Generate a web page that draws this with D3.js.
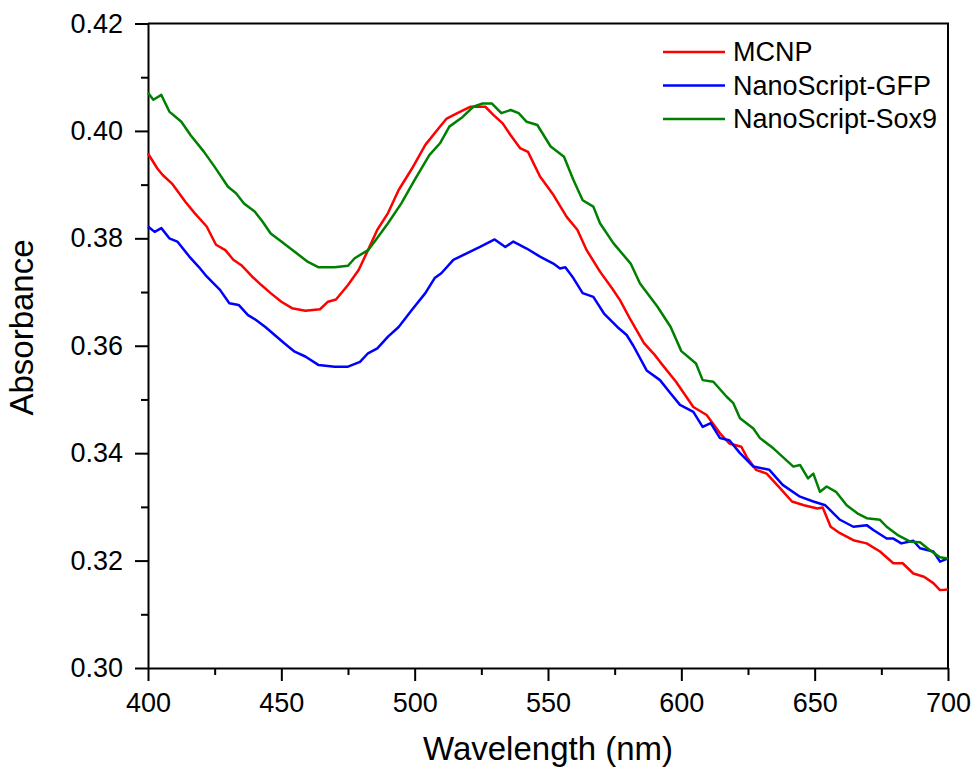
<!DOCTYPE html>
<html>
<head>
<meta charset="utf-8">
<script src="https://cdn.jsdelivr.net/npm/d3@7"></script>
<style>
  body { margin: 0; background: #fff; }
  svg { display: block; font-family: "Liberation Sans", Arial, sans-serif; }
</style>
</head>
<body>
<svg id="chart" width="975" height="767"></svg>
<script>
// series (wavelength in nm, absorbance)
const mcnpWl = [400, 403.5, 405.5, 409, 414, 417.5, 422, 425.5, 429, 432, 435, 439, 442.5, 446, 450, 454, 459, 464.5, 467.5, 470.5, 475, 479, 482.5, 486, 490, 494, 499, 504, 509, 512, 516, 521, 523, 526.5, 529.5, 533, 536, 539.5, 542.5, 547, 552, 557, 561, 564.5, 569.5, 574, 577, 581, 586, 590, 592, 598, 604.5, 609.5, 614.5, 618, 622.5, 624.5, 628, 632, 637, 641.5, 646, 651, 653, 656, 659.5, 664.5, 669.5, 674.5, 679.5, 683, 687, 691, 694.5, 697, 700];
const mcnpAbs = [0.3958, 0.3930, 0.3918, 0.3902, 0.3868, 0.3847, 0.3822, 0.3788, 0.3778, 0.3760, 0.3750, 0.3729, 0.3713, 0.3698, 0.3682, 0.3670, 0.3665, 0.3668, 0.3682, 0.3686, 0.3713, 0.3741, 0.3778, 0.3816, 0.3847, 0.3890, 0.3930, 0.3974, 0.4005, 0.4023, 0.4033, 0.4045, 0.4045, 0.4045, 0.4030, 0.4014, 0.3992, 0.3968, 0.3961, 0.3915, 0.3881, 0.3840, 0.3816, 0.3778, 0.3738, 0.3707, 0.3685, 0.3648, 0.3605, 0.3583, 0.3570, 0.3533, 0.3486, 0.3471, 0.3437, 0.3418, 0.3412, 0.3393, 0.3369, 0.3362, 0.3335, 0.3310, 0.3303, 0.3297, 0.3299, 0.3263, 0.3251, 0.3238, 0.3232, 0.3217, 0.3195, 0.3195, 0.3176, 0.3170, 0.3158, 0.3145, 0.3146];

const gfpWl = [400, 402.5, 405, 408, 411, 415.5, 419, 422, 427, 430.5, 434, 437.5, 440.5, 444, 447.5, 451, 455, 459, 464, 470, 475, 479.5, 482.5, 486, 490, 494, 499, 504, 507.5, 510, 514.5, 519.5, 524.5, 530, 534, 537, 542, 547, 552, 554.5, 556.5, 559.5, 563, 567, 571, 576, 579.5, 582, 587, 592, 596, 599.5, 604.5, 608, 611, 614.5, 618, 622, 627, 633, 638, 644.5, 649.5, 654, 659.5, 664.5, 669.5, 672, 677, 679.5, 682.5, 687, 689.5, 694.5, 697, 700];
const gfpAbs = [0.3822, 0.3812, 0.3819, 0.3800, 0.3794, 0.3766, 0.3747, 0.3729, 0.3704, 0.3679, 0.3676, 0.3657, 0.3648, 0.3635, 0.3620, 0.3605, 0.3589, 0.3580, 0.3564, 0.3561, 0.3561, 0.3570, 0.3586, 0.3595, 0.3617, 0.3635, 0.3667, 0.3698, 0.3726, 0.3735, 0.3760, 0.3772, 0.3784, 0.3798, 0.3784, 0.3794, 0.3781, 0.3766, 0.3753, 0.3744, 0.3746, 0.3726, 0.3698, 0.3691, 0.3660, 0.3635, 0.3620, 0.3600, 0.3554, 0.3536, 0.3511, 0.3490, 0.3477, 0.3449, 0.3456, 0.3428, 0.3424, 0.3400, 0.3375, 0.3369, 0.3341, 0.3319, 0.3310, 0.3303, 0.3276, 0.3263, 0.3266, 0.3257, 0.3241, 0.3241, 0.3232, 0.3237, 0.3223, 0.3217, 0.3198, 0.3204];

const sox9Wl = [400, 402, 405, 408, 412.5, 416, 421, 425, 430, 433, 436, 440, 443, 446, 450, 455, 460, 464, 470, 475, 477.5, 482.5, 485, 490, 495, 500, 505.5, 509.5, 513, 518, 522, 525.5, 529, 532.5, 536, 539, 542, 546, 551, 556, 559.5, 563, 567, 569.5, 574.5, 581, 584.5, 591, 596, 600, 605.5, 608, 612, 617, 619.5, 622, 627, 629.5, 634.5, 638, 642, 644.5, 647.5, 649.5, 652, 654.5, 658, 662, 666, 669.5, 674.5, 677, 681, 686, 689.5, 693, 697, 700];
const sox9Abs = [0.4071, 0.4058, 0.4067, 0.4036, 0.4017, 0.3992, 0.3961, 0.3933, 0.3896, 0.3884, 0.3865, 0.3850, 0.3831, 0.3809, 0.3794, 0.3775, 0.3756, 0.3746, 0.3746, 0.3749, 0.3763, 0.3778, 0.3794, 0.3828, 0.3865, 0.3909, 0.3955, 0.3977, 0.4008, 0.4026, 0.4045, 0.4051, 0.4051, 0.4033, 0.4039, 0.4033, 0.4017, 0.4011, 0.3971, 0.3952, 0.3909, 0.3871, 0.3859, 0.3828, 0.3791, 0.3753, 0.3716, 0.3673, 0.3635, 0.3590, 0.3567, 0.3536, 0.3533, 0.3505, 0.3493, 0.3465, 0.3446, 0.3428, 0.3409, 0.3393, 0.3375, 0.3378, 0.3353, 0.3362, 0.3328, 0.3338, 0.3328, 0.3303, 0.3288, 0.3279, 0.3276, 0.3263, 0.3248, 0.3235, 0.3234, 0.3220, 0.3206, 0.3204];

const seriesNames = ['MCNP', 'NanoScript-GFP', 'NanoScript-Sox9'];
const seriesColors = ['#ff0000', '#0000ff', '#008000'];
const xTicks = [400, 450, 500, 550, 600, 650, 700];
const yTicks = [0.30, 0.32, 0.34, 0.36, 0.38, 0.40, 0.42];

const series = [
  { name: seriesNames[0], color: seriesColors[0], wl: mcnpWl, abs: mcnpAbs },
  { name: seriesNames[1], color: seriesColors[1], wl: gfpWl, abs: gfpAbs },
  { name: seriesNames[2], color: seriesColors[2], wl: sox9Wl, abs: sox9Abs }
];

const margin = { top: 23.5, left: 148, right: 27, bottom: 99 };
const width = 975 - margin.left - margin.right;
const height = 767 - margin.top - margin.bottom;

const svg = d3.select('#chart');
const g = svg.append('g').attr('transform', `translate(${margin.left},${margin.top})`);

const x = d3.scaleLinear().domain([400, 700]).range([0, width]);
const y = d3.scaleLinear().domain([0.30, 0.42]).range([height, 0]);

// minor ticks first, major axes over them
g.append('g')
  .attr('transform', `translate(0,${height})`)
  .call(d3.axisBottom(x).tickValues(d3.range(425, 700, 50)).tickSize(7).tickSizeOuter(0).tickFormat(''))
  .call(a => a.select('.domain').remove());
g.append('g')
  .call(d3.axisLeft(y).tickValues(d3.range(0.31, 0.42, 0.02)).tickSize(7).tickSizeOuter(0).tickFormat(''))
  .call(a => a.select('.domain').remove());

const xAxis = g.append('g')
  .attr('transform', `translate(0,${height})`)
  .call(d3.axisBottom(x).tickValues(xTicks).tickSize(13).tickSizeOuter(0).tickPadding(12).tickFormat(d3.format('d')));
const yAxis = g.append('g')
  .call(d3.axisLeft(y).tickValues(yTicks).tickSize(13).tickSizeOuter(0).tickPadding(12).tickFormat(d3.format('.2f')));

g.selectAll('.tick line').attr('stroke', '#000').attr('stroke-width', 2);
[xAxis, yAxis].forEach(a => {
  a.select('.domain').attr('stroke', '#000').attr('stroke-width', 2);
  a.selectAll('text').attr('font-size', 27).attr('fill', '#000')
    .style('font-family', '"Liberation Sans", Arial, sans-serif');
});

// top and right frame
g.append('path')
  .attr('d', `M0,0H${width}V${height}`)
  .attr('fill', 'none')
  .attr('stroke', '#000')
  .attr('stroke-width', 2);

const line = d3.line()
  .x(d => x(d[0]))
  .y(d => y(d[1]));

g.selectAll('.series')
  .data(series)
  .join('path')
  .attr('class', 'series')
  .attr('d', s => line(d3.zip(s.wl, s.abs)))
  .attr('fill', 'none')
  .attr('stroke', s => s.color)
  .attr('stroke-width', 2.5)
  .attr('stroke-linejoin', 'round');

// legend
const legend = svg.append('g').attr('transform', 'translate(663,52)');
const items = legend.selectAll('g')
  .data(series)
  .join('g')
  .attr('transform', (d, i) => `translate(0,${i * 33.5})`);
items.append('line')
  .attr('x1', 0).attr('x2', 62)
  .attr('stroke', d => d.color)
  .attr('stroke-width', 2.5);
items.append('text')
  .attr('x', 70)
  .attr('dy', '0.35em')
  .attr('font-size', 27)
  .text(d => d.name);

// axis titles
svg.append('text')
  .attr('x', margin.left + width / 2)
  .attr('y', 760)
  .attr('text-anchor', 'middle')
  .attr('font-size', 33)
  .text('Wavelength (nm)');
svg.append('text')
  .attr('transform', 'translate(33,327.5) rotate(-90)')
  .attr('text-anchor', 'middle')
  .attr('font-size', 33)
  .text('Absorbance');
</script>
</body>
</html>
